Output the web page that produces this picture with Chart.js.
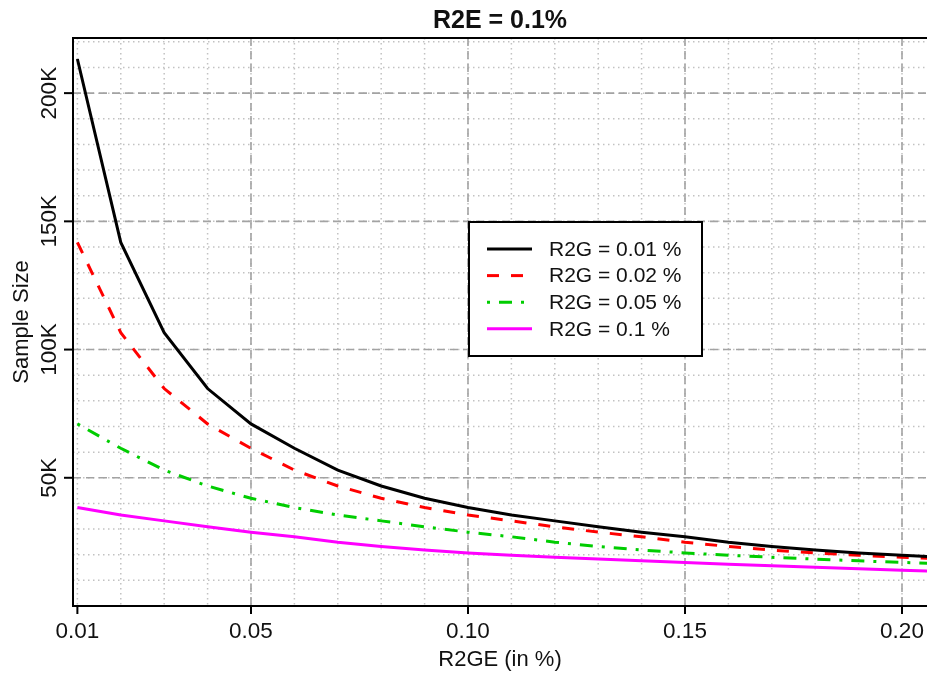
<!DOCTYPE html>
<html>
<head>
<meta charset="utf-8">
<title>R2E = 0.1%</title>
<script src="https://cdn.jsdelivr.net/npm/chart.js@4.4.1/dist/chart.umd.min.js"></script>
<style>
  html, body { margin: 0; padding: 0; background: #fff; }
  #wrap { width: 927px; height: 673px; }
</style>
</head>
<body>
<div id="wrap"><canvas id="sampleSizeChart" width="927" height="673"></canvas></div>
<script>
// R2GE values (in %) on the x axis
const r2ge = [0.01, 0.02, 0.03, 0.04, 0.05, 0.06, 0.07, 0.08, 0.09, 0.10, 0.11,
  0.12, 0.13, 0.14, 0.15, 0.16, 0.17, 0.18, 0.19, 0.20, 0.21];

// sample sizes, one array per R2G curve
const n_r2g_001 = [213300, 141800, 106600, 84800, 71000, 61500, 53000, 46800, 42000, 38400, 35500,
  33200, 30900, 28800, 27000, 24900, 23200, 21800, 20700, 19800, 19000];
const n_r2g_002 = [141800, 106600, 84800, 71000, 61500, 53000, 46800, 42000, 38400, 35500, 33200,
  30900, 28800, 27000, 24900, 23200, 21800, 20700, 19800, 19000, 18300];
const n_r2g_005 = [71000, 61500, 53000, 46800, 42000, 38400, 35500, 33200, 30900, 28800, 27000,
  24900, 23200, 21800, 20700, 19800, 19000, 18300, 17600, 17000, 16400];
const n_r2g_01 = [38400, 35500, 33200, 30900, 28800, 27000, 24900, 23200, 21800, 20700, 19800,
  19000, 18300, 17600, 17000, 16300, 15700, 15100, 14500, 13900, 13400];

const seriesLabels = ['R2G = 0.01 %', 'R2G = 0.02 %', 'R2G = 0.05 %', 'R2G = 0.1 %'];

// axis ticks and grid
const xTicks = [0.01, 0.05, 0.10, 0.15, 0.20];
const xTickLabels = ['0.01', '0.05', '0.10', '0.15', '0.20'];
const yTicks = [50000, 100000, 150000, 200000];
const yTickLabels = ['50K', '100K', '150K', '200K'];
const xMajorGrid = [0.05, 0.10, 0.15, 0.20];
const yMajorGrid = [50000, 100000, 150000, 200000];
const xMinorGrid = r2ge;
const yMinorGrid = [10000, 20000, 30000, 40000, 50000, 60000, 70000, 80000, 90000, 100000, 110000,
  120000, 130000, 140000, 150000, 160000, 170000, 180000, 190000, 200000, 210000, 220000];

const FONT = '"Liberation Sans", Arial, sans-serif';

function toPoints(values) {
  return r2ge.map((x, i) => ({ x: x, y: values[i] }));
}

function makeDataset(label, values, color, dash) {
  return {
    label: label,
    data: toPoints(values),
    borderColor: color,
    backgroundColor: color,
    borderWidth: 3,
    borderDash: dash,
    borderCapStyle: 'butt',
    pointRadius: 0,
    tension: 0,
    fill: false,
  };
}

const framePlugin = {
  id: 'framePlugin',
  beforeDatasetsDraw(chart) {
    const { ctx, chartArea: a, scales: { x, y } } = chart;
    ctx.save();

    // dotted minor grid
    ctx.strokeStyle = '#c2c2c2';
    ctx.lineWidth = 1.5;
    ctx.setLineDash([1.5, 3.5]);
    xMinorGrid.forEach(v => {
      const px = x.getPixelForValue(v);
      ctx.beginPath(); ctx.moveTo(px, a.top); ctx.lineTo(px, a.bottom); ctx.stroke();
    });
    yMinorGrid.forEach(v => {
      const py = y.getPixelForValue(v);
      ctx.beginPath(); ctx.moveTo(a.left, py); ctx.lineTo(a.right, py); ctx.stroke();
    });

    // dashed major grid
    ctx.strokeStyle = '#a3a3a3';
    ctx.lineWidth = 1.6;
    ctx.setLineDash([8, 5]);
    xMajorGrid.forEach(v => {
      const px = x.getPixelForValue(v);
      ctx.beginPath(); ctx.moveTo(px, a.top); ctx.lineTo(px, a.bottom); ctx.stroke();
    });
    yMajorGrid.forEach(v => {
      const py = y.getPixelForValue(v);
      ctx.beginPath(); ctx.moveTo(a.left, py); ctx.lineTo(a.right, py); ctx.stroke();
    });
    ctx.restore();
  },
  afterDraw(chart) {
    const { ctx, chartArea: a, scales: { x, y } } = chart;
    ctx.save();
    ctx.setLineDash([]);

    // box (right side is cut off by the picture edge)
    ctx.strokeStyle = '#000';
    ctx.lineWidth = 2;
    ctx.beginPath();
    ctx.moveTo(a.right + 2, a.top);
    ctx.lineTo(a.left, a.top);
    ctx.lineTo(a.left, a.bottom);
    ctx.lineTo(a.right + 2, a.bottom);
    ctx.stroke();

    // tick marks and labels
    ctx.fillStyle = '#111';
    ctx.font = '22.5px ' + FONT;
    ctx.textAlign = 'center';
    ctx.textBaseline = 'alphabetic';
    xTicks.forEach((v, i) => {
      const px = x.getPixelForValue(v);
      ctx.beginPath(); ctx.moveTo(px, a.bottom); ctx.lineTo(px, a.bottom + 8); ctx.stroke();
      ctx.fillText(xTickLabels[i], px, 638);
    });
    yTicks.forEach((v, i) => {
      const py = y.getPixelForValue(v);
      ctx.beginPath(); ctx.moveTo(a.left, py); ctx.lineTo(a.left - 9, py); ctx.stroke();
      ctx.save();
      ctx.translate(56, py);
      ctx.rotate(-Math.PI / 2);
      ctx.fillText(yTickLabels[i], 0, 0);
      ctx.restore();
    });

    // axis titles
    ctx.font = '22px ' + FONT;
    ctx.textBaseline = 'middle';
    ctx.fillText('R2GE (in %)', (a.left + a.right) / 2, 660);
    ctx.save();
    ctx.translate(22, (a.top + a.bottom) / 2);
    ctx.rotate(-Math.PI / 2);
    ctx.fillText('Sample Size', 0, 0);
    ctx.restore();

    // main title
    ctx.font = 'bold 25px ' + FONT;
    ctx.textBaseline = 'alphabetic';
    ctx.fillText('R2E = 0.1%', (a.left + a.right) / 2, 28);

    // legend box
    const box = { left: 469, top: 222, right: 702, bottom: 356 };
    ctx.fillStyle = '#fff';
    ctx.fillRect(box.left, box.top, box.right - box.left, box.bottom - box.top);
    ctx.strokeStyle = '#000';
    ctx.lineWidth = 2;
    ctx.strokeRect(box.left, box.top, box.right - box.left, box.bottom - box.top);

    ctx.font = '21px ' + FONT;
    ctx.textAlign = 'left';
    ctx.textBaseline = 'middle';
    chart.data.datasets.forEach((ds, i) => {
      const rowY = 249 + i * 26.6;
      ctx.strokeStyle = ds.borderColor;
      ctx.lineWidth = 3;
      ctx.setLineDash(ds.borderDash || []);
      ctx.beginPath(); ctx.moveTo(487, rowY); ctx.lineTo(532, rowY); ctx.stroke();
      ctx.setLineDash([]);
      ctx.fillStyle = '#111';
      ctx.fillText(ds.label, 549, rowY + 1);
    });
    ctx.restore();
  }
};

const ctx = document.getElementById('sampleSizeChart').getContext('2d');

new Chart(ctx, {
  type: 'line',
  data: {
    datasets: [
      makeDataset(seriesLabels[0], n_r2g_001, '#000000', []),
      makeDataset(seriesLabels[1], n_r2g_002, '#ff0000', [12, 12]),
      makeDataset(seriesLabels[2], n_r2g_005, '#00cd00', [3, 9, 13, 9]),
      makeDataset(seriesLabels[3], n_r2g_01, '#ff00ff', []),
    ],
  },
  options: {
    responsive: false,
    devicePixelRatio: 1,
    animation: false,
    layout: { padding: { left: 73, top: 38, right: 0, bottom: 67 } },
    plugins: {
      legend: { display: false },
      title: { display: false },
      tooltip: { enabled: false },
    },
    scales: {
      x: { type: 'linear', display: false, min: 0.00899, max: 0.20576 },
      y: { type: 'linear', display: false, min: 0, max: 221500 },
    },
  },
  plugins: [framePlugin],
});
</script>
</body>
</html>
